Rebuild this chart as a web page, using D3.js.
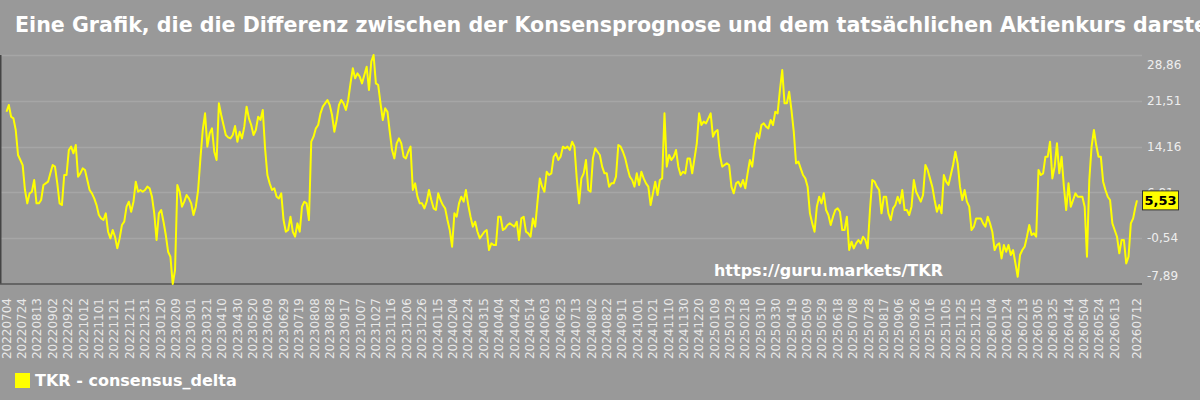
<!DOCTYPE html>
<meta charset="utf-8">
<head>
    <script type="text/javascript" src="https://cdn.jsdelivr.net/npm/d3@7"></script>
    <style>
        body { margin: 0; background: #999999; overflow: hidden; }
        svg { display: block; font-family: "DejaVu Sans", sans-serif; }
    </style>
    <title>TKR consensus delta</title>
</head>
<body>
<script>
    // chart texts
    var titleText = "Eine Grafik, die die Differenz zwischen der Konsensprognose und dem tatsächlichen Aktienkurs darstellt";
    var seriesName = "TKR - consensus_delta";
    var sourceUrl = "https://guru.markets/TKR";

    // series: one reading every 3 days from startDate, last point on lastDate
    var startDate = "20220704";
    var stepDays = 3;
    var lastDate = "20260712";
    var lastValue = 5.53;
    var consensusDelta = [
        19.76, 20.83, 18.96, 18.69, 16.82, 12.81, 12.01, 11.20, 7.19, 5.05,
        6.66, 6.92, 8.80, 5.05, 5.05, 5.59, 8.00, 8.26, 8.53, 9.87,
        11.20, 10.94, 8.26, 5.05, 4.78, 9.60, 9.60, 13.61, 14.15, 13.08,
        14.41, 9.33, 9.87, 10.67, 10.40, 8.80, 7.19, 6.66, 5.85, 4.78,
        3.18, 2.64, 2.38, 3.45, 0.50, -0.57, 0.77, -0.30, -2.17, -0.57,
        1.57, 2.11, 4.52, 5.32, 3.71, 5.32, 8.53, 6.92, 7.19, 6.92,
        7.19, 7.73, 7.46, 6.12, 3.45, -0.83, 3.45, 3.98, 2.11, -0.03,
        -2.71, -3.51, -7.89, -5.65, 8.00, 6.92, 4.52, 5.32, 6.39, 5.85,
        5.05, 3.18, 4.52, 7.19, 12.27, 16.82, 19.50, 14.15, 16.29, 17.09,
        13.34, 12.01, 21.10, 19.23, 17.62, 16.02, 15.64, 15.48, 16.02, 17.46,
        14.95, 16.55, 15.48, 17.36, 20.57, 18.69, 17.62, 16.02, 16.82, 18.96,
        18.43, 20.03, 13.88, 9.60, 8.26, 7.19, 7.46, 6.12, 5.85, 6.66,
        2.38, 0.50, 0.77, 2.91, 0.50, -0.30, 1.84, 0.50,
        // 2023-08
        4.52, 5.32, 5.05, 2.38, 14.95, 15.75, 17.09, 17.62, 19.50, 20.57,
        21.10, 21.64, 20.83, 19.23, 16.55, 18.43, 20.83, 21.64, 21.10, 20.03,
        21.64, 24.31, 26.72, 25.11, 25.92, 25.38, 24.31, 25.65, 26.99, 23.24,
        27.79, 28.86, 24.31, 24.04, 21.10, 18.43, 20.30, 19.76, 16.55, 13.61,
        12.27, 14.68, 15.48, 14.68, 12.54, 12.27, 13.34, 14.15, 7.19, 8.26,
        6.12, 5.05, 5.05, 4.25, 5.32, 7.19, 5.59, 4.25, 3.98, 6.66,
        5.59, 4.78, 4.25, 2.38, 0.77, -1.90, 3.45, 2.91, 5.05, 6.12,
        5.32, 7.19, 4.78, 2.91, 1.31, 2.11, 0.50, -0.57, -0.03, 0.50,
        0.77, -2.44, -1.37, -1.64, -1.64, 2.91, 2.91, 0.77, 1.04, 1.57,
        1.84, 1.57, 1.31, 2.11, -0.83, 2.64, 2.91, 0.50, 0.24, -0.30,
        2.64, 1.31, 5.32, 9.06, 7.73, 6.92, 10.13, 9.60, 9.87, 12.54,
        13.08, 12.01, 12.54, 14.15, 13.88, 14.15, 13.61, 14.95, 14.15, 9.06,
        5.05, 9.06, 9.87, 12.01, 7.19, 6.92, 12.27, 13.88, 13.34, 12.81,
        // 2024-09
        10.94, 9.87, 9.87, 7.73, 8.26, 8.26, 9.33, 14.41, 14.15, 13.34,
        12.27, 10.67, 9.33, 8.80, 7.73, 9.87, 8.00, 10.13, 9.06, 8.26,
        7.73, 4.78, 6.66, 8.53, 6.39, 8.80, 9.06, 19.50, 10.94, 12.81,
        12.01, 12.54, 13.61, 10.94, 9.60, 10.13, 9.87, 12.27, 12.27, 9.87,
        12.27, 14.68, 19.50, 17.62, 18.16, 17.89, 18.69, 19.50, 15.75, 16.55,
        16.82, 12.81, 10.94, 11.20, 11.47, 11.20, 7.73, 6.66, 8.26, 8.53,
        7.73, 8.80, 7.46, 9.87, 12.01, 10.94, 14.15, 16.29, 15.48, 17.62,
        17.89, 17.36, 17.09, 18.43, 17.62, 19.76, 19.50, 23.24, 26.45, 21.10,
        21.10, 22.97, 20.03, 16.55, 11.47, 11.74, 10.67, 9.60, 9.06, 7.73,
        3.45, 1.84, 0.50, 4.52, 6.12, 5.05, 6.66, 3.98, 3.18, 1.57,
        2.91, 3.98, 4.25, 3.71, 0.77, 0.77, 2.91, -2.44, -1.10, -2.17,
        -1.37, -0.83, -1.37, -0.30, -0.83, -2.17, 3.98, 8.80, 8.53, 7.73,
        7.19, 3.45, 6.12, 6.12, 3.45, 2.38, 4.25, 4.78, 6.12, 5.05,
        // 2025-10
        7.19, 3.98, 3.98, 3.18, 4.52, 8.80, 6.92, 6.12, 5.32, 6.39,
        11.20, 10.40, 9.06, 7.73, 5.59, 3.71, 4.78, 3.45, 9.60, 8.53,
        8.00, 9.60, 11.20, 13.34, 11.47, 7.73, 5.59, 7.19, 5.32, 4.52,
        0.77, 1.31, 2.64, 2.64, 2.64, 1.84, 1.31, 2.91, 1.84, 0.50,
        -2.44, -1.64, -1.37, -3.78, -1.64, -2.71, -1.64, -3.24, -2.44, -4.58,
        -6.72, -3.24, -2.44, -1.90, -0.30, 1.57, -0.03, 0.24, -0.30, 10.40,
        9.60, 9.87, 12.54, 12.54, 14.95, 9.06, 10.94, 14.68, 9.87, 12.54,
        7.73, 3.98, 8.26, 4.52, 5.59, 6.66, 6.12, 6.12, 6.12, 4.52,
        -3.51, 8.80, 14.15, 16.82, 14.41, 12.54, 12.54, 8.53, 7.19, 6.12,
        5.59, 1.84, 0.77, -0.30, -2.97, -0.83, -0.83, -4.58, -3.51, 1.84,
        2.64, 4.52
    ];

    var tickLabels = [
        "20220704", "20220724", "20220813", "20220902", "20220922", "20221012", "20221101", "20221121",
        "20221211", "20221231", "20230120", "20230209", "20230301", "20230321", "20230410", "20230430",
        "20230520", "20230609", "20230629", "20230719", "20230808", "20230828", "20230917", "20231007",
        "20231027", "20231116", "20231206", "20231226", "20240115", "20240204", "20240224", "20240315",
        "20240404", "20240424", "20240514", "20240603", "20240623", "20240713", "20240802", "20240822",
        "20240911", "20241001", "20241021", "20241110", "20241130", "20241220", "20250109", "20250129",
        "20250218", "20250310", "20250330", "20250419", "20250509", "20250529", "20250618", "20250708",
        "20250728", "20250817", "20250906", "20250926", "20251016", "20251105", "20251125", "20251215",
        "20260104", "20260124", "20260213", "20260305", "20260325", "20260414", "20260504", "20260524",
        "20260613", "20260712"
    ];

    var width = 1200, height = 400;
    var plot = {left: 0, right: 1142, top: 55, bottom: 284};

    var parse = d3.timeParse("%Y%m%d");
    var data = consensusDelta.map(function(v, i) {
        return {date: d3.timeDay.offset(parse(startDate), i * stepDays), value: v};
    });
    data.push({date: parse(lastDate), value: lastValue});

    var svg = d3.select("body").append("svg")
        .attr("width", width)
        .attr("height", height);

    var x = d3.scaleTime()
        .domain([parse(startDate), parse(lastDate)])
        .range([6.5, 1137]);

    var ext = d3.extent(data, d => d.value);
    var y = d3.scaleLinear()
        .domain(ext)
        .range([plot.bottom, plot.top]);

    var yTicks = d3.range(6).map(k => ext[0] + k * (ext[1] - ext[0]) / 5);
    var fmt = v => v.toFixed(2).replace(".", ",");

    // title (runs off the right edge like the original)
    svg.append("text")
        .attr("x", 15)
        .attr("y", 32)
        .style("font-size", "20.6px")
        .style("font-weight", "bold")
        .style("fill", "#ffffff")
        .text(titleText);

    // grid
    svg.append("g").selectAll("line")
        .data(yTicks.slice(1))
        .enter().append("line")
        .attr("x1", plot.left)
        .attr("x2", plot.right)
        .attr("y1", d => Math.round(y(d)) + 0.5)
        .attr("y2", d => Math.round(y(d)) + 0.5)
        .style("stroke", "#a6a6a6")
        .style("stroke-width", 1.5);

    // frame
    svg.append("line")
        .attr("x1", 0.75).attr("x2", 0.75)
        .attr("y1", plot.top).attr("y2", plot.bottom)
        .style("stroke", "#444").style("stroke-width", 1.5);
    svg.append("line")
        .attr("x1", plot.left).attr("x2", plot.right)
        .attr("y1", plot.bottom).attr("y2", plot.bottom)
        .style("stroke", "#555").style("stroke-width", 1.5);

    // watermark
    svg.append("text")
        .attr("x", 943)
        .attr("y", 276)
        .attr("text-anchor", "end")
        .style("font-size", "16px")
        .style("font-weight", "bold")
        .style("fill", "#ffffff")
        .text(sourceUrl);

    // line
    var line = d3.line()
        .x(d => x(d.date))
        .y(d => y(d.value));
    svg.append("path")
        .datum(data)
        .attr("d", line)
        .style("fill", "none")
        .style("stroke", "#ffff00")
        .style("stroke-width", 2)
        .style("stroke-linejoin", "round");

    // x labels
    svg.append("g").selectAll("text")
        .data(tickLabels)
        .enter().append("text")
        .attr("transform", d => "translate(" + x(parse(d)) + ",298) rotate(-90)")
        .attr("text-anchor", "end")
        .attr("dy", "0.35em")
        .style("font-size", "12px")
        .style("fill", "#e8e8e8")
        .text(d => d);

    // y labels
    svg.append("g").selectAll("text")
        .data(yTicks)
        .enter().append("text")
        .attr("x", 1147)
        .attr("y", d => Math.min(Math.max(y(d), 65), 276))
        .attr("dy", "0.35em")
        .style("font-size", "12px")
        .style("fill", "#eeeeee")
        .text(fmt);

    // last value badge (covers the middle tick label, as in the original)
    var lastY = y(lastValue);
    svg.append("rect")
        .attr("x", 1142.5)
        .attr("y", lastY - 9.5)
        .attr("width", 36)
        .attr("height", 19)
        .style("fill", "#ffff00")
        .style("stroke", "#333")
        .style("stroke-width", 1);
    svg.append("text")
        .attr("x", 1160.5)
        .attr("y", lastY)
        .attr("dy", "0.36em")
        .attr("text-anchor", "middle")
        .style("font-size", "13px")
        .style("font-weight", "bold")
        .style("fill", "#000")
        .text(fmt(lastValue));

    // legend
    svg.append("rect")
        .attr("x", 15).attr("y", 373)
        .attr("width", 15).attr("height", 15)
        .style("fill", "#ffff00");
    svg.append("text")
        .attr("x", 35).attr("y", 386)
        .style("font-size", "16px")
        .style("font-weight", "bold")
        .style("fill", "#ffffff")
        .text(seriesName);
</script>
</body>
